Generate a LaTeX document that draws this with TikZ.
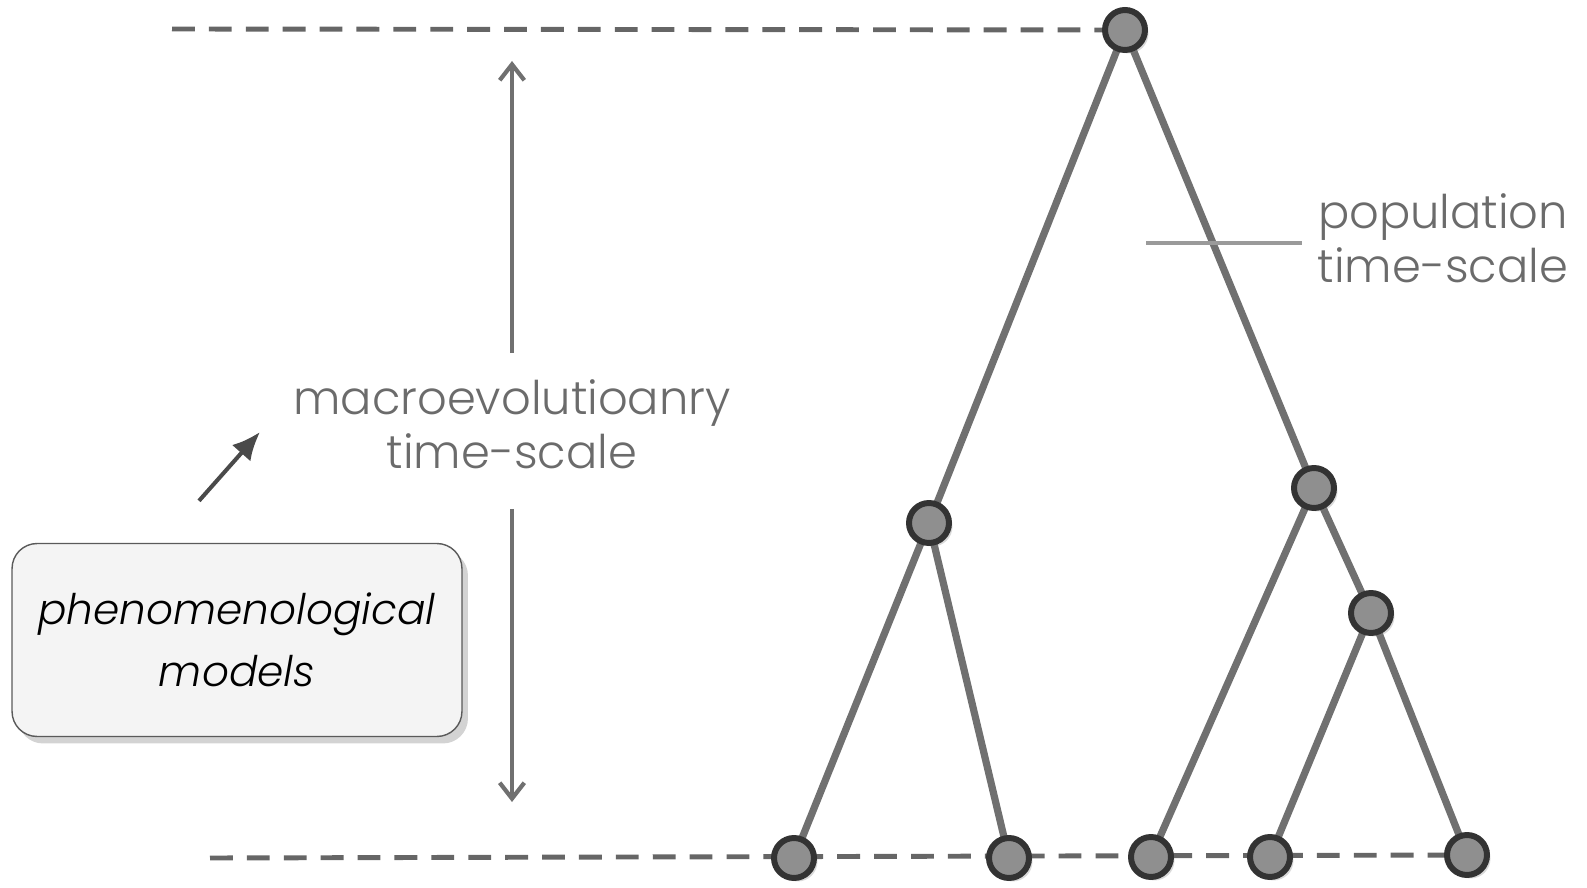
\documentclass[tikz,border=0pt]{standalone}
\usepackage{fontspec}
\setmainfont{Poppins}[UprightFont=* Light, ItalicFont=* Light Italic]
\usepackage{tikz}
\usetikzlibrary{arrows.meta,backgrounds,shadows,positioning}
\definecolor{nodefill}{HTML}{8F8F8F}
\definecolor{nodeborder}{HTML}{333333}
\definecolor{branchgray}{HTML}{707070}
\definecolor{dashgray}{HTML}{666666}
\definecolor{labelgray}{HTML}{6B6B6B}
\definecolor{tickgray}{HTML}{9A9A9A}
\definecolor{boxfill}{HTML}{F4F4F4}
\definecolor{boxborder}{HTML}{5A5A5A}
\definecolor{pointergray}{HTML}{4A4A4A}
\tikzset
{
    taxon/.style      = {circle, draw=nodeborder, fill=nodefill, line width=3.4pt, minimum size=0.8cm, inner sep=0pt,
                         drop shadow={opacity=0.3, shadow xshift=0.07cm, shadow yshift=-0.07cm}},
    branch/.style     = {draw=branchgray, line width=4.1pt},
    timeline/.style   = {draw=dashgray, line width=2.8pt, dash pattern=on 13pt off 8pt},
    scalelabel/.style = {text=labelgray, align=center, inner sep=0pt, font=\fontsize{26.4}{31}\selectfont},
    span/.style       = {draw=branchgray, line width=2.4pt, -{Straight Barb[length=9pt, width=14pt, line width=2.4pt]}},
    modelbox/.style   = {draw=boxborder, fill=boxfill, line width=0.8pt, rounded corners=0.5cm, align=center,
                         minimum width=9cm, minimum height=3.86cm, font=\fontsize{24}{35}\selectfont\itshape,
                         drop shadow={opacity=0.35, shadow xshift=0.12cm, shadow yshift=-0.14cm}}
}
\begin{document}
\begin{tikzpicture}[x=0.02cm, y=-0.02cm]
    \useasboundingbox (0,0) rectangle (1587,888);

    % tree
    \node [taxon] (root)  at (1125,30)  {};
    \node [taxon] (left)  at (929,523)  {};
    \node [taxon] (right) at (1314,488) {};
    \node [taxon] (inner) at (1371,613) {};
    \node [taxon] (a) at (794,858)  {};
    \node [taxon] (b) at (1009,858) {};
    \node [taxon] (c) at (1151,857) {};
    \node [taxon] (d) at (1270,857) {};
    \node [taxon] (e) at (1467,855) {};

    \begin{pgfonlayer}{background}
        \coordinate (topstart)    at (172,29);
        \coordinate (bottomstart) at (210,858);
        \draw [timeline] (topstart) -- (root.center);
        \draw [timeline] (bottomstart) -- (e.center);
        \draw [branch] (root.center) -- (left.center);
        \draw [branch] (root.center) -- (right.center);
        \draw [branch] (left.center) -- (a.center);
        \draw [branch] (left.center) -- (b.center);
        \draw [branch] (right.center) -- (c.center);
        \draw [branch] (right.center) -- (inner.center);
        \draw [branch] (inner.center) -- (d.center);
        \draw [branch] (inner.center) -- (e.center);
    \end{pgfonlayer}

    % time-scales
    \node [scalelabel, minimum height=3.1cm] (macro) at (512,431) {};
    \node [scalelabel] (macrotext) at (512,424) {macroevolutioanry\\time-scale};
    \coordinate (scaletop)    at (512,61);
    \coordinate (scalebottom) at (512,802);
    \draw [span] (macro.north) -- (scaletop);
    \draw [span] (macro.south) -- (scalebottom);

    \node [scalelabel] (population) at (1443,238) {population\\time-scale};
    \coordinate (poptick) at (1146,243);
    \draw [tickgray, line width=2.2pt] (poptick) -- ([xshift=-0.3cm]population.west |- poptick);

    % models
    \node [modelbox] (models) at (237,640) {phenomenological\\models};
    \coordinate (pointerhead) at (260,432);
    \draw [pointergray, line width=2.3pt, -{Latex[length=16pt, width=14pt]}] ([xshift=-0.76cm, yshift=0.84cm]models.north) -- (pointerhead);
\end{tikzpicture}
\end{document}
